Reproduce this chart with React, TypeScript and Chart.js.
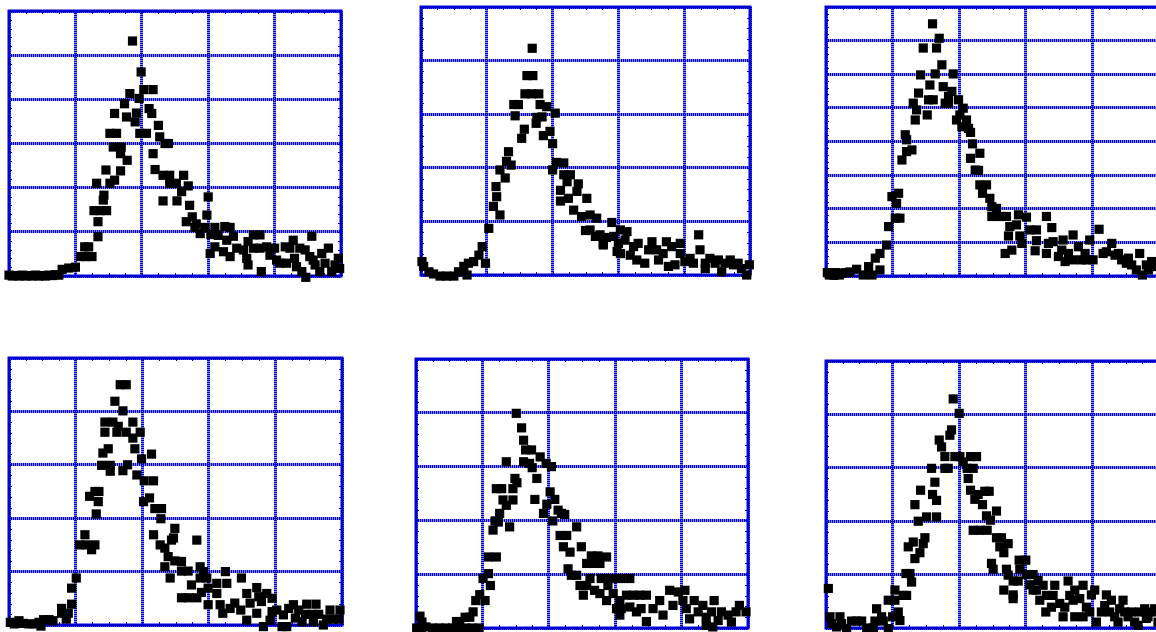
import React, { useEffect, useRef } from "react";
import { Chart, registerables } from "chart.js";

Chart.register(...registerables);

type Pt = [number, number];

// shared axis settings (x in same units for all panels)
const xMin = 0;
const xMax = 50;
const xStep = 10;
const xMinorStep = 2.5;
const yStep = 10;
const yMinorStep = 2;

// y-axis maxima for each panel
const panelYMax = [60, 50, 80, 50, 50, 50];

const panel1Points: Pt[] = [
  [0, 0.2], [0.5, 0], [1, 0.1], [1.5, 0], [2, 0.2], [2.5, 0], [3, 0.1], [3.5, 0], [4, 0.2], [4.5, 0],
  [5, 0.1], [5.5, 0], [6, 0.2], [6.5, 0.1], [7, 0.3], [7.5, 0.2], [8, 1.5], [9, 1.8], [10, 2],
  [10.8, 4.4], [11.6, 4.4], [12.5, 4.4], [11.4, 6.6], [12, 6.6], [13.4, 8.9], [13.4, 12.3],
  [12.8, 14.8], [13.7, 14.8], [14.7, 14.8], [14.2, 17.2], [14.3, 18.3], [13.2, 21], [15.2, 21],
  [15.9, 21.7], [14.6, 24], [16.8, 23.8], [17.8, 26.2], [15.7, 29.2], [16.9, 29.2], [16.8, 27.7],
  [15.2, 32.3], [16.2, 32.3], [15.9, 36.8], [17.7, 36], [19.2, 36.9], [19, 34.9], [17.4, 39],
  [18.2, 41.3], [19.6, 40.2], [19.7, 32.3], [20.7, 32.3], [18.6, 53.2], [19.9, 46.2], [20.3, 42.2],
  [21.7, 42.2], [21.1, 37.9], [21.5, 36.8], [22.5, 34.1], [22.7, 31.5], [23.5, 30], [24, 30],
  [21.7, 27.7], [22, 24.1], [23.2, 22.8], [24.2, 22.8], [26.3, 22.8], [24.2, 21], [25.2, 21],
  [27, 20.4], [26, 19.1], [23.2, 17], [25.3, 17], [27.2, 16], [30, 17.9], [27.6, 13.4], [29.8, 13.8],
  [26.7, 12.3], [28.2, 11.8], [28, 11], [29.5, 11], [31, 11], [32.5, 11.2], [33.3, 11],
  [28.8, 9.6], [30.4, 9.4], [31.5, 9.2], [33.8, 9], [31, 6.6], [30.3, 5.1], [32.3, 5.5], [33.3, 4.4],
  [32.8, 8.1], [34.3, 6.3], [35.3, 5.9], [36, 7.8], [36.8, 9.3], [37.8, 9.3], [36.8, 6.3], [35.8, 4],
  [36, 2.5], [38, 1], [37.8, 6.3], [38.8, 6.6], [39.3, 4.7], [40, 6.3], [40.3, 3.6], [40.8, 2.9],
  [41.8, 2.9], [41.6, 6.6], [42.8, 8.1], [42.3, 6.3], [43, 4], [43.8, 6.3], [44.6, 5.9], [45.6, 9],
  [43.3, 2.1], [44.1, 1], [44.7, -0.3], [45.3, 4.4], [46.1, 2.5], [46.8, 1], [47.1, 5.1], [48.1, 6.3],
  [47.6, 2.9], [48.6, 1], [49.1, 2.5], [49.6, 4], [49.8, 1.7], [45.8, 3.6],
];

const panel2Points: Pt[] = [
  [0.15, 2.5], [0.4, 1.6], [1.2, 0.6], [1.9, 0.2], [2.9, -0.2], [3.9, -0.2], [5, -0.2], [5.7, 0.6],
  [6.5, 1.6], [7, 0], [7.2, 2.2], [8, 2.5], [8.8, 3.7], [9.3, 5.3], [9.8, 2.2], [10.3, 8.7],
  [11, 12.8], [12, 11.2], [11.5, 14.6], [11.4, 16.5], [12, 19.6], [12.8, 18.1], [13, 21.2],
  [13.7, 20.5], [13.3, 23], [14.3, 29.7], [14.1, 31.8], [14.8, 31.8], [15.3, 25.5], [15.7, 27.2],
  [15.8, 33.8], [16.8, 33.8], [17.9, 33.8], [16.1, 37.2], [17, 37.2], [16.9, 42.3], [17.5, 28.3],
  [17.6, 29.4], [18.4, 29.5], [18.1, 31.8], [19.1, 31.4], [18.6, 26], [19.6, 26.8], [20, 24.5],
  [20.4, 30.2], [20, 19.6], [20.6, 21], [21.7, 20.9], [21.7, 18.7], [22.7, 18.7], [22.2, 17.4],
  [23.9, 17], [21.2, 15.8], [21.2, 13.8], [22.4, 14.3], [23.7, 15.6], [25.2, 14.3], [23.2, 12.1],
  [24.4, 10.9], [25.7, 11.2], [26.7, 10.6], [25, 8.3], [25.7, 8.4], [27.2, 7.5], [27.7, 5.9],
  [28.2, 7], [29, 9.8], [29.3, 7.2], [30.3, 8.4], [31.3, 8.1], [30, 5.9], [30.3, 4], [31.8, 3.7],
  [32.3, 5.3], [32.8, 2.8], [33, 5.9], [34, 2.2], [34.6, 4.7], [35.1, 6.2], [35.8, 4.7], [36.1, 2.8],
  [36.8, 4], [37.3, 6.2], [37.6, 1.6], [38.1, 5.3], [38.6, 1.9], [39.4, 5.9], [39.4, 4], [40.1, 2.5],
  [40.9, 3.1], [41.4, 2.2], [42.2, 7.5], [42.4, 4.7], [43.2, 2.2], [43.2, 1.2], [43.9, 3.1],
  [44.7, 2.2], [45.2, 2.8], [45.7, 0.6], [46.2, 2.2], [47, 2.8], [47.5, 1.9], [48.2, 2.2], [48.7, 1.2],
  [49.5, 0], [49.9, 1.9], [29.8, 4.4], [31, 6.5], [27.7, 5.6], [26.5, 7.2],
];

const panel3Points: Pt[] = [
  [0.2, 1], [0.8, 0.8], [1.5, 1], [2.2, 0.8], [3, 1], [3.6, 1.2], [0.5, 0.3], [1.2, 0.2], [2, 0.3],
  [4.6, 2], [5.6, 0.3], [6.4, 2.8], [6.9, 0.3], [7.4, 5.3], [8.1, 1.8], [8.1, 6.7], [9.1, 9.2],
  [9.4, 14.7], [10.4, 17.2], [10.9, 24.6], [9.9, 23.6], [10.6, 21.6], [11.1, 17.2], [11.4, 34.5],
  [11.9, 42], [12.1, 40.5], [12.1, 37], [12.9, 37.5], [13.1, 51.4], [13.6, 49.4], [13.4, 46.4],
  [13.9, 54.4], [14.2, 59.8], [14.6, 67.8], [15.2, 47.9], [15.4, 52.4], [15.6, 56.8], [16.1, 52.4],
  [16.4, 60.1], [16, 75], [16.6, 67.8], [17, 70.7], [17.4, 62.8], [17.6, 56.3], [17.9, 51.4],
  [18.4, 51.4], [18.4, 53.4], [18.9, 54.9], [19.1, 60.1], [19.6, 46.4], [19.9, 52.4], [20.1, 47.9],
  [20.6, 49.9], [20.4, 44.4], [21.1, 46.4], [21.4, 43.9], [21.7, 42.7], [22, 39.3], [23.1, 36.5],
  [21.7, 35], [22.4, 31.5], [22.9, 31.4], [23.1, 27.1], [24.1, 27.1], [23.5, 24.6], [24.6, 23.1],
  [24.9, 20.6], [25.6, 20.1], [24.9, 17.7], [26.1, 17.7], [27.1, 17.7], [28.9, 18.2], [30.1, 17.5],
  [27.6, 14.7], [28.6, 15.2], [27.4, 11.9], [29.1, 11.9], [30.6, 13.7], [31.6, 13.7], [29.4, 9.7],
  [31.6, 10.5], [26.9, 6.7], [27.9, 7.7], [31.4, 7.5], [33.1, 17.7], [33.9, 14.4], [33.4, 9.7],
  [34.1, 10.2], [34.9, 5.8], [33.1, 6.7], [35.4, 7.7], [35.9, 4.3], [35.6, 10.7], [36.4, 6.7],
  [37.1, 12.2], [37.1, 4.8], [37.9, 8.7], [38.4, 4.8], [38.9, 6.7], [39.1, 4.8], [39.6, 10.7],
  [40.1, 4.8], [41, 13.9], [41.6, 6.7], [42.1, 7.2], [42.9, 9.7], [43.4, 6.2], [43.9, 6.7],
  [44.4, 4.8], [45.4, 5.3], [45.9, 3.3], [46.6, 1.8], [47.1, 6.7], [47.5, 0.3], [48.1, 3.3],
  [48.9, 4.3], [49.4, 2.8], [48.4, 1.8], [45.1, 3.8],
];

const panel4Points: Pt[] = [
  [0.2, 0.5], [0.8, 0.2], [1.5, 0.8], [2.2, 0.3], [3, 0.2], [3.8, 0.2], [4.5, 0.5], [5.2, 1], [6, 1],
  [6.6, 0.8], [4.8, -0.2], [7.9, 3.1], [7.9, 2.2], [8.6, 1.1], [8.9, 2.2], [9.4, 3.9], [9.4, 6.9],
  [10.1, 8.8], [10.6, 15], [11.4, 16.9], [11.6, 15], [12.4, 14.1], [12.9, 15], [12.1, 24.1],
  [12.9, 25], [13.5, 25], [13.4, 23.1], [13.1, 20.8], [13.9, 29.9], [14.1, 32.2], [14.9, 33],
  [15.2, 29.9], [15.2, 28.8], [14.4, 36.1], [14.4, 38], [15.6, 38], [16.2, 36.1], [16.4, 37.2],
  [15.9, 41.9], [16.7, 45], [17.6, 45], [17.1, 40.1], [17.1, 28.9], [17.8, 30], [17.6, 36.1],
  [18.6, 38], [18.6, 35], [18.9, 33], [19.2, 28.1], [19.7, 36.1], [19.9, 31.1], [20.3, 27],
  [21.4, 32], [21.7, 27], [20.2, 23.1], [21.1, 23.8], [21.9, 21.8], [22.9, 21.8], [22.8, 19.9],
  [24.9, 18.1], [21.7, 16.9], [22.7, 15], [23.4, 14.4], [24.4, 15.9], [24.7, 16.3], [23.9, 12.8],
  [24.9, 12], [25.9, 11.9], [23.4, 10.9], [25.9, 10.1], [26.9, 10.1], [24.2, 8.8], [28.2, 15.9],
  [28.7, 10.9], [29.2, 10], [28.7, 8.8], [29.7, 8.8], [27.4, 7.5], [25.9, 5.1], [26.9, 5.1],
  [28.2, 5.1], [28.9, 6.1], [29.9, 6.9], [31.2, 7.8], [32.7, 7.8], [32.5, 10], [31.2, 5.9],
  [29.9, 3.8], [31.7, 3.8], [32.1, 2.2], [33.2, 3.1], [33.9, 4.1], [34.9, 8.8], [34.8, 2.8],
  [35.7, 5.9], [35.7, 0.9], [36.2, 4.1], [37.2, 7], [37.5, 5.3], [37.9, 4.4], [37.2, 2.2],
  [38.2, -0.3], [38.7, 5.9], [39.5, 5], [39.5, 2.5], [39.2, 0.9], [40.2, 2.8], [41, -0.3],
  [41.2, 1.9], [42, 3.1], [42.7, 3.8], [43, 1.3], [43.5, 2.8], [44, 0.6], [44.5, 2], [44.7, 3.9],
  [45.5, 2], [45.7, 0.6], [46.1, 3.9], [46.5, 2], [47.2, 0], [47.7, 1.1], [48.2, 2.8], [48.7, 1.1],
  [49.7, 2.8], [49.5, 1.1], [41.7, -0.3],
];

const panel5Points: Pt[] = [
  [0.1, 0], [0.8, -0.2], [1.5, 0.2], [2.5, 0], [3.5, 0], [4.5, 0], [5.5, 0], [6.5, 0], [7.5, 0],
  [8.5, 0], [9.5, 0], [0.6, 2.2], [0.9, 1.1], [6.1, 1.2], [6.6, 1.2], [7.4, 2], [8.1, 2], [8.6, 3],
  [9, 5.1], [9.6, 6.2], [10.4, 5.1], [10.1, 9.2], [10.9, 10.1], [11.2, 7.9], [10.9, 13.2],
  [12.1, 13.2], [11.6, 18.2], [12.4, 19.7], [12.6, 21.3], [11.9, 19.9], [14.1, 18.8], [13.1, 23.8],
  [13.6, 22.8], [14.6, 23.8], [12.1, 25.9], [12.9, 25.9], [14.6, 25.9], [14.9, 27.8], [15.2, 27],
  [13.6, 30.9], [15.1, 39.9], [15.9, 37.2], [16.2, 34.9], [16.5, 33.1], [17.4, 33.1], [16.2, 30.9],
  [17.1, 30.6], [17.5, 29.8], [18.7, 31.8], [19.6, 30.6], [20.4, 30], [18.2, 27.8], [17.9, 23.9],
  [19.2, 21.3], [19.7, 23], [20.2, 25.3], [20.9, 23.9], [20.6, 19.9], [21.4, 21.9], [21.9, 21.3],
  [22.4, 21.1], [21.7, 17.2], [22.7, 17.2], [24.2, 18.8], [22.2, 15.1], [23.2, 14.1], [24.9, 15.1],
  [26.4, 13.4], [27.4, 13.4], [28.7, 13.2], [25.7, 12], [26.7, 12], [27.7, 12], [22.9, 11],
  [23.4, 9.8], [24.2, 9.8], [24.7, 7.9], [25.7, 7.9], [26.2, 9.2], [25.2, 6.1], [26.9, 7],
  [27.7, 6.4], [27.9, 9.2], [28.9, 7.9], [29.2, 9.2], [29.9, 9.2], [30.9, 9.2], [32.2, 9.2],
  [29.7, 6.4], [28.7, 5.1], [30.7, 5.1], [31.7, 6.1], [32.7, 6.1], [33.7, 6.1], [34.7, 6.1],
  [30.9, 3.6], [32.2, 3.9], [33.2, 3], [33.9, 3.6], [34.7, 1.2], [35.7, 3.6], [36.7, 5.1],
  [37.2, 2.4], [38.2, 7], [38.7, 4.2], [39.5, 6.7], [40.2, 5.1], [40.5, 7], [40.7, 3.6], [41.2, 1.7],
  [41.9, 5.1], [42.5, 3], [43.2, 4.2], [43.7, 2], [44.5, 3], [44.9, 5.1], [45.5, 1.4], [46, 3],
  [47, 2.4], [47.5, 1.1], [48.2, 3], [48.7, 4.2], [49.7, 3], [30.7, 2.4], [30.2, 3.6], [44.7, 0.2],
  [43.7, 0.5],
];

const panel6Points: Pt[] = [
  [0.35, 7.4], [0.6, 2.1], [0.85, 0.8], [1.6, 0.2], [2.1, 2.1], [2.35, 0.8], [3.1, -0.1], [3.85, 1.3],
  [4.6, 1.3], [5.35, 1.3], [6.1, 0], [7.1, 0], [7.6, 3.6], [7.35, 1.3], [8.35, 2.1], [8.6, 1.3],
  [9.35, -0.1], [9.35, 5.2], [10, 2.1], [10.35, 7.1], [10.35, 5.2], [10.85, 3], [11.1, 1.4],
  [11.6, 6.1], [12.1, 6.1], [12, 10.2], [12.6, 10.2], [12.85, 8.6], [13.35, 13], [12.35, 15.2],
  [13.1, 16.1], [14.1, 14.1], [14.6, 15.8], [14.85, 16.9], [13.85, 20], [13.35, 23.1], [14.2, 25.8],
  [15.1, 20.8], [16, 25], [16.6, 23.9], [16.35, 27.3], [15.85, 29.9], [16.6, 20.8], [17, 35.2],
  [17.35, 33.9], [17.85, 32.1], [17.85, 29.9], [18.35, 29.9], [18.6, 36.1], [18.85, 37.1],
  [19.1, 42.9], [19.35, 32.1], [20, 40.2], [20.1, 32.1], [20.6, 31.1], [21.2, 29.9], [21.7, 32.1],
  [22.6, 32.1], [22.1, 29.9], [21.35, 28], [21.7, 25.8], [22.35, 24.1], [22.85, 25], [23.5, 23.1],
  [23.85, 25.6], [24.5, 25.6], [22.1, 18.3], [23.1, 18.3], [24.2, 18.3], [24.1, 21], [24.7, 20.2],
  [25.6, 21.9], [25.6, 16.9], [26.35, 16.9], [26.1, 15.2], [27.35, 15.8], [26.7, 14.1], [24.85, 12.1],
  [25.1, 11], [27.1, 11], [27.35, 9.9], [28.1, 8.8], [28.85, 8.8], [29, 12.7], [30, 12.7], [29.1, 11],
  [30.1, 10], [31.1, 10], [26.7, 7.1], [28.1, 5.5], [28.1, 6.2], [30.6, 8.1], [31.1, 7.1], [31.6, 7.1],
  [31.85, 8.9], [32.6, 8], [33.1, 6.1], [34.1, 6.1], [34.35, 8], [32.1, 5.2], [33, 3], [33.85, 3.9],
  [35.1, 4.6], [35.6, 2.1], [35.85, 3.9], [36.35, 8.8], [36.6, 6.1], [37.35, 7.1], [37.1, 5.2],
  [37.35, 2.1], [38.1, 5.5], [38.6, 8], [38.6, 2.1], [39.1, 3.9], [39.6, 3], [39.85, 6.2], [40.35, 7.1],
  [40.6, 1.1], [41.35, 3], [41.85, 4.2], [42.1, 6.2], [42.6, 3], [42.85, 5.2], [43.35, 2.1],
  [43.85, 1.1], [44.1, 3.6], [44.6, 5.2], [44.85, 3], [45.35, 2.1], [45.85, 3], [46.35, 1.1],
  [46.85, 0.5], [47.1, 3], [47.85, 3.6], [48.35, 2.1], [48.85, 3], [49.35, 3.6], [49.85, 1.1],
  [48.1, 1.8],
];

const panelPoints: Pt[][] = [panel1Points, panel2Points, panel3Points, panel4Points, panel5Points, panel6Points];

// plot-area placement of each panel on the page (left, top, width, height)
const panelBoxes = [
  { left: 9, top: 11, width: 332, height: 265 },
  { left: 421, top: 7, width: 329, height: 268 },
  { left: 826, top: 7, width: 333, height: 269 },
  { left: 9, top: 358, width: 333, height: 267 },
  { left: 416, top: 359, width: 332, height: 269 },
  { left: 826, top: 361, width: 333, height: 267 },
];

const PAD = 10;
const BLUE = "#0000d0";
const LIGHT_BLUE = "#8a8af5";
const GRID_W = 3;

function align(p: number, w: number) {
  const half = w / 2;
  return Math.round(p - half) + half;
}

const framePlugin = {
  id: "frameAndMinor",
  beforeDatasetsDraw(chart: any) {
    const { ctx, chartArea } = chart;
    const xs = chart.scales.x;
    const ys = chart.scales.y;
    ctx.save();
    // dark dashes over the light grid lines
    ctx.strokeStyle = BLUE;
    ctx.lineWidth = GRID_W;
    ctx.setLineDash([1, 1]);
    xs.ticks.forEach((t: any) => {
      const px = align(xs.getPixelForValue(t.value), GRID_W);
      ctx.beginPath();
      ctx.moveTo(px, chartArea.top);
      ctx.lineTo(px, chartArea.bottom);
      ctx.stroke();
    });
    ys.ticks.forEach((t: any) => {
      const py = align(ys.getPixelForValue(t.value), GRID_W);
      ctx.beginPath();
      ctx.moveTo(chartArea.left, py);
      ctx.lineTo(chartArea.right, py);
      ctx.stroke();
    });
    ctx.setLineDash([]);
    // minor ticks
    ctx.lineWidth = 1;
    const tl = 3;
    for (let v = xs.min; v <= xs.max + 1e-9; v += xMinorStep) {
      const px = Math.round(xs.getPixelForValue(v)) + 0.5;
      ctx.beginPath();
      ctx.moveTo(px, chartArea.bottom);
      ctx.lineTo(px, chartArea.bottom - tl);
      ctx.moveTo(px, chartArea.top);
      ctx.lineTo(px, chartArea.top + tl);
      ctx.stroke();
    }
    for (let v = ys.min; v <= ys.max + 1e-9; v += yMinorStep) {
      const py = Math.round(ys.getPixelForValue(v)) + 0.5;
      ctx.beginPath();
      ctx.moveTo(chartArea.left, py);
      ctx.lineTo(chartArea.left + tl, py);
      ctx.moveTo(chartArea.right, py);
      ctx.lineTo(chartArea.right - tl, py);
      ctx.stroke();
    }
    // solid frame
    ctx.lineWidth = 3;
    ctx.strokeRect(
      chartArea.left,
      chartArea.top,
      chartArea.right - chartArea.left,
      chartArea.bottom - chartArea.top
    );
    ctx.restore();
  },
};

function Panel({ points, yMax, box }: { points: Pt[]; yMax: number; box: { left: number; top: number; width: number; height: number } }) {
  const ref = useRef<HTMLCanvasElement | null>(null);
  useEffect(() => {
    if (!ref.current) return;
    const axisCommon = {
      type: "linear" as const,
      grid: { color: LIGHT_BLUE, lineWidth: GRID_W, drawTicks: false },
      border: { display: false },
    };
    const chart = new Chart(ref.current, {
      type: "scatter",
      data: {
        datasets: [
          {
            data: points.map(([x, y]) => ({ x, y })),
            pointStyle: "rect",
            pointRadius: 6.5,
            pointHoverRadius: 6.5,
            backgroundColor: "#000000",
            borderColor: "#000000",
            borderWidth: 0,
            clip: false as any,
          },
        ],
      },
      options: {
        animation: false,
        responsive: false,
        maintainAspectRatio: false,
        events: [],
        layout: { padding: PAD },
        plugins: { legend: { display: false }, tooltip: { enabled: false } },
        scales: {
          x: { ...axisCommon, min: xMin, max: xMax, ticks: { display: false, stepSize: xStep } },
          y: { ...axisCommon, min: 0, max: yMax, ticks: { display: false, stepSize: yStep } },
        },
      },
      plugins: [framePlugin],
    });
    return () => chart.destroy();
  }, [points, yMax]);
  const w = box.width + PAD * 2;
  const h = box.height + PAD * 2;
  return (
    <div style={{ position: "absolute", left: box.left - PAD, top: box.top - PAD, width: w, height: h }}>
      <canvas ref={ref} width={w} height={h} style={{ width: w, height: h, display: "block" }} />
    </div>
  );
}

export default function App() {
  return (
    <div
      style={{
        position: "fixed",
        left: 0,
        top: 0,
        width: 1156,
        height: 632,
        overflow: "hidden",
        background: "#ffffff",
      }}
    >
      {panelPoints.map((pts, i) => (
        <Panel key={i} points={pts} yMax={panelYMax[i]} box={panelBoxes[i]} />
      ))}
    </div>
  );
}
